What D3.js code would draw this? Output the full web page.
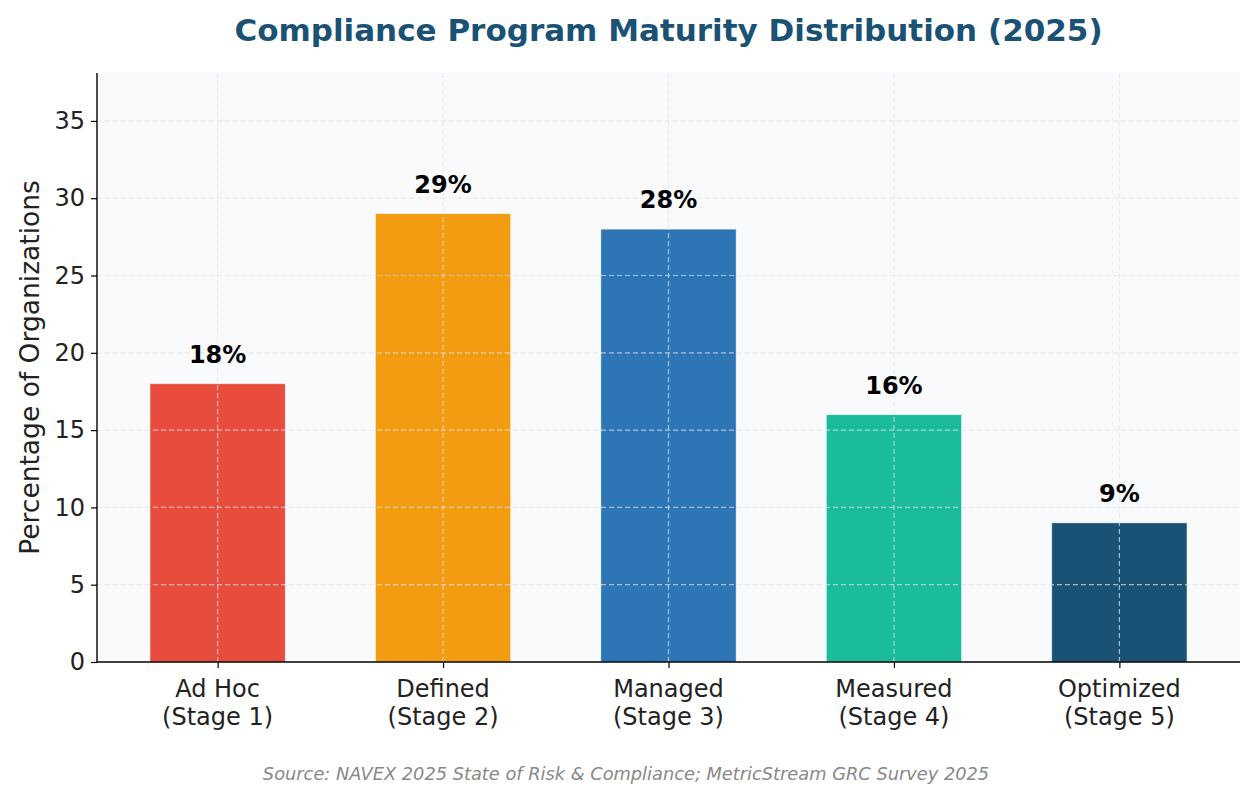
<!DOCTYPE html>
<html lang="en">
	<head>
		<meta charset="utf-8">
		<title>Compliance Program Maturity Distribution</title>
		<script type="text/javascript" src="https://d3js.org/d3.v7.min.js"></script>
		<style type="text/css">
			body { margin: 0; background: white; }
			text { font-family: "DejaVu Sans", sans-serif; }
		</style>
	</head>
	<body>
		<script type="text/javascript">

			// data
			var stages = ["Ad Hoc", "Defined", "Managed", "Measured", "Optimized"];
			var stageNums = ["(Stage 1)", "(Stage 2)", "(Stage 3)", "(Stage 4)", "(Stage 5)"];
			var percents = [18, 29, 28, 16, 9];
			var barColors = ["#e74c3c", "#f39c12", "#2e75b6", "#1abc9c", "#1a5276"];
			var yTicks = [0, 5, 10, 15, 20, 25, 30, 35];

			var w = 1256, h = 800;
			var plotL = 97, plotR = 1240, plotT = 73, plotB = 662;

			var svg = d3.select("body").append("svg")
						.attr("width", w)
						.attr("height", h);

			var x = d3.scaleLinear().domain([-0.535, 4.535]).range([plotL, plotR]);
			var y = d3.scaleLinear().domain([0, 38.1]).range([plotB, plotT]);
			var barW = x(0.6) - x(0);

			//plot background
			svg.append("rect")
				.attr("x", plotL).attr("y", plotT)
				.attr("width", plotR - plotL).attr("height", plotB - plotT)
				.attr("fill", "#f9fafc");

			//bars
			svg.selectAll("rect.bar")
				.data(percents)
				.enter()
				.append("rect")
				.attr("class", "bar")
				.attr("x", function(d, i) { return x(i) - barW / 2; })
				.attr("y", function(d) { return y(d); })
				.attr("width", barW)
				.attr("height", function(d) { return y(0) - y(d); })
				.attr("fill", function(d, i) { return barColors[i]; })
				.attr("stroke", "white")
				.attr("stroke-opacity", 0.6)
				.attr("stroke-width", 0.8);

			//grid on top of bars
			var grid = svg.append("g")
				.attr("stroke", "#dfe5ec")
				.attr("stroke-opacity", 0.7)
				.attr("stroke-width", 1.2)
				.attr("stroke-dasharray", "5,3");
			grid.selectAll("line.h")
				.data(yTicks.slice(1))
				.enter().append("line")
				.attr("x1", plotL).attr("x2", plotR)
				.attr("y1", function(d) { return y(d); })
				.attr("y2", function(d) { return y(d); });
			grid.selectAll("line.v")
				.data(percents)
				.enter().append("line")
				.attr("x1", function(d, i) { return x(i); })
				.attr("x2", function(d, i) { return x(i); })
				.attr("y1", plotT).attr("y2", plotB);

			//value labels
			svg.selectAll("text.val")
				.data(percents)
				.enter().append("text")
				.attr("x", function(d, i) { return x(i); })
				.attr("y", function(d) { return y(d) - 21; })
				.attr("text-anchor", "middle")
				.attr("font-size", "24px")
				.attr("font-weight", "bold")
				.attr("fill", "black")
				.text(function(d) { return d + "%"; });

			//axes
			var yAxis = d3.axisLeft(y).tickValues(yTicks).tickSize(6).tickPadding(6);
			var gy = svg.append("g")
				.attr("transform", "translate(" + plotL + ",0)")
				.call(yAxis);
			gy.select(".domain").attr("d", "M0," + plotT + "V" + plotB).attr("stroke-width", 1.4);
			gy.selectAll(".tick line").attr("stroke-width", 1.2);
			gy.selectAll(".tick text")
				.attr("font-size", "24px")
				.attr("font-family", "DejaVu Sans")
				.attr("fill", "#222");

			var xAxis = d3.axisBottom(x).tickValues([0, 1, 2, 3, 4]).tickSize(6).tickFormat("");
			var gx = svg.append("g")
				.attr("transform", "translate(0," + plotB + ")")
				.call(xAxis);
			gx.select(".domain").attr("d", "M" + plotL + ",0H" + plotR).attr("stroke-width", 1.4);
			gx.selectAll(".tick line").attr("stroke-width", 1.2);

			//category labels
			var cat = svg.selectAll("text.cat")
				.data(stages)
				.enter().append("text")
				.attr("text-anchor", "middle")
				.attr("font-size", "24px")
				.attr("fill", "#222");
			cat.append("tspan")
				.attr("x", function(d, i) { return x(i); })
				.attr("y", 697)
				.text(function(d) { return d; });
			cat.append("tspan")
				.attr("x", function(d, i) { return x(i); })
				.attr("y", 725)
				.text(function(d, i) { return stageNums[i]; });

			//y label
			svg.append("text")
				.attr("transform", "translate(39," + ((plotT + plotB) / 2) + ") rotate(-90)")
				.attr("text-anchor", "middle")
				.attr("font-size", "26.5px")
				.attr("fill", "#222")
				.text("Percentage of Organizations");

			//title
			svg.append("text")
				.attr("x", (plotL + plotR) / 2)
				.attr("y", 41)
				.attr("text-anchor", "middle")
				.attr("font-size", "31px")
				.attr("font-weight", "bold")
				.attr("fill", "#1a5276")
				.text("Compliance Program Maturity Distribution (2025)");

			//source
			svg.append("text")
				.attr("x", 626)
				.attr("y", 780)
				.attr("text-anchor", "middle")
				.attr("font-size", "17.8px")
				.attr("font-style", "italic")
				.attr("fill", "#888")
				.text("Source: NAVEX 2025 State of Risk & Compliance; MetricStream GRC Survey 2025");

		</script>
	</body>
</html>
